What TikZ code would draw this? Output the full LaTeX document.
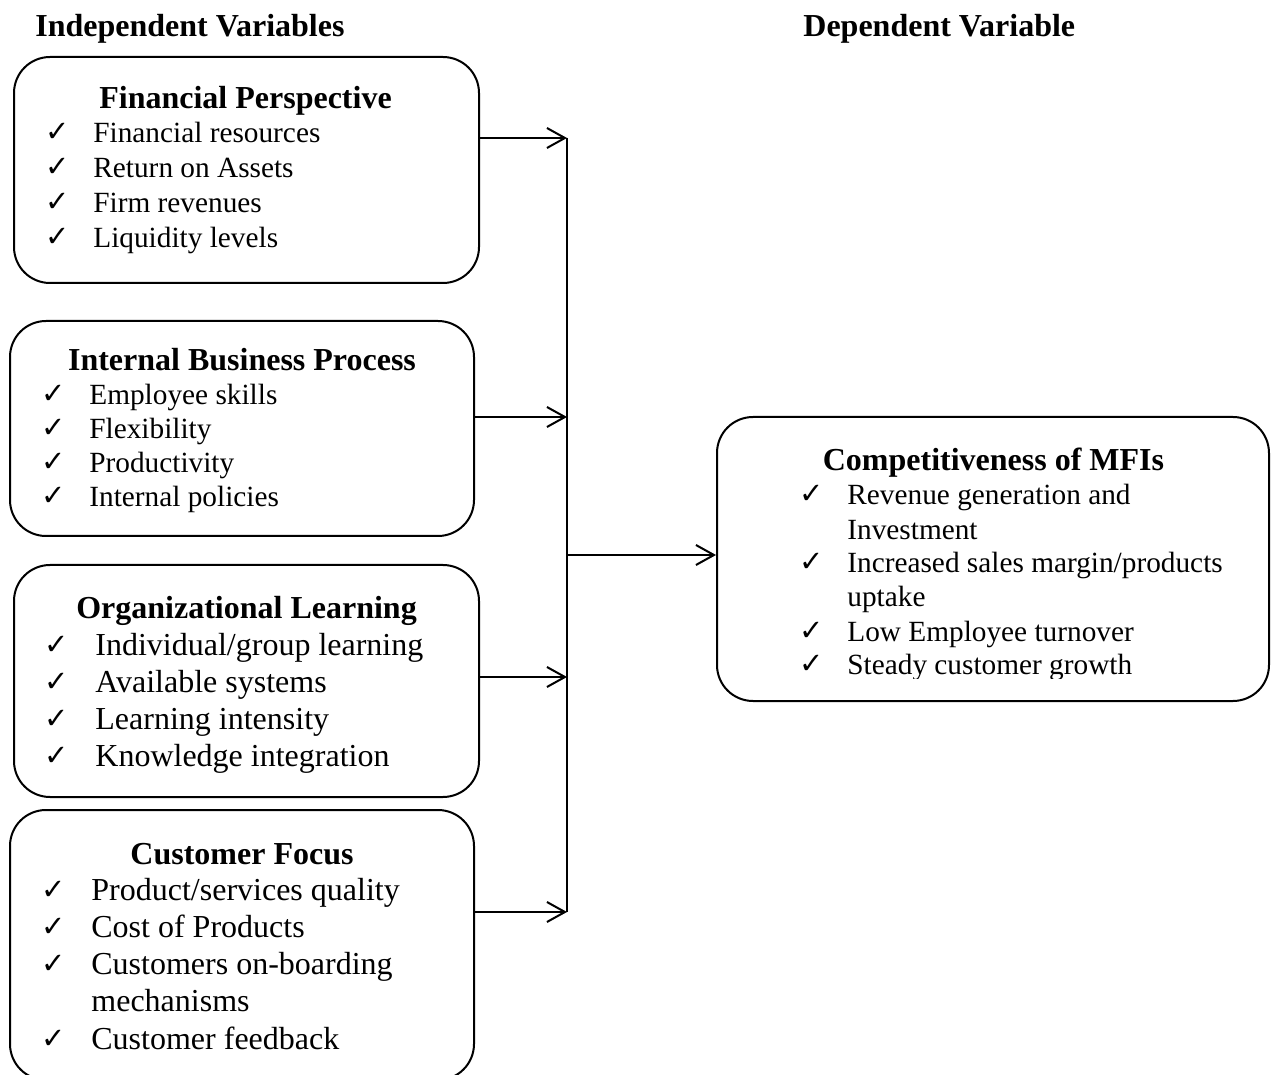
\documentclass[tikz,border=0pt]{standalone}
\usepackage{fontspec}
\setmainfont{Liberation Serif}
\newfontfamily\chkfont{DejaVu Sans}
\usetikzlibrary{arrows.meta}
\newcommand\bodyA{\fontsize{14.65pt}{17pt}\selectfont}
\newcommand\bodyB{\fontsize{16pt}{19pt}\selectfont}
% #1 check x, #2 text x, #3 baseline, #4 check raise, #5 text
\newcommand\itm[5]{\node[chk] at (#1,#3-#4) {✓};\node[item] at (#2,#3) {#5};}
\newcommand\cont[3]{\node[item] at (#1,#2) {#3};}
\begin{document}
\begin{tikzpicture}[x=0.5pt,y=-0.5pt,
  box/.style={draw, line width=1pt, rounded corners=18pt, inner sep=0pt},
  item/.style={anchor=base west, inner sep=0pt},
  chk/.style={anchor=base, inner sep=0pt, font=\chkfont\fontsize{14.5pt}{16pt}\selectfont},
  ttl/.style={anchor=base, inner sep=0pt, font=\bfseries\fontsize{16pt}{19pt}\selectfont},
  hdr/.style={anchor=base west, inner sep=0pt, font=\bfseries\fontsize{16pt}{19pt}\selectfont},
  arr/.style={line width=1pt, -{Straight Barb[length=9pt,width=10pt,line width=1pt]}},
  conn/.style={line width=1pt}]
\useasboundingbox (0,0) rectangle (1271,1075);

% headers
\node[hdr] (hind) at (35,37) {Independent Variables};
\node[hdr] (hdep) at (803,37) {Dependent Variable};

% boxes
\node[box, minimum width=232.5pt, minimum height=113pt] (b1) at (246.5,170) {};
\node[box, minimum width=232pt, minimum height=107.5pt] (b2) at (242,428.5) {};
\node[box, minimum width=232.5pt, minimum height=116pt] (b3) at (246.5,681) {};
\node[box, minimum width=232pt, minimum height=135pt] (b4) at (242,945) {};
\node[box, minimum width=276pt, minimum height=142pt] (res) at (993,559) {};

% box 1
\node[ttl] (t1) at (245.5,109) {Financial Perspective};
\begin{scope}[font=\bodyA]
\itm{58}{93}{143}{1}{Financial resources}
\itm{58}{93}{178}{1}{Return on Assets}
\itm{58}{93}{213}{1}{Firm revenues}
\itm{58}{93}{248}{1}{Liquidity levels}
\end{scope}

% box 2
\node[ttl] (t2) at (242,371) {Internal Business Process};
\begin{scope}[font=\bodyA]
\itm{54}{89}{405}{1}{Employee skills}
\itm{54}{89}{439}{1}{Flexibility}
\itm{54}{89}{473}{1}{Productivity}
\itm{54}{89}{507}{1}{Internal policies}
\end{scope}

% box 3
\node[ttl] (t3) at (246.5,618) {Organizational Learning};
\begin{scope}[font=\bodyB]
\itm{57}{95}{655}{1}{Individual/group learning}
\itm{57}{95}{692}{1}{Available systems}
\itm{57}{95}{729}{1}{Learning intensity}
\itm{57}{95}{766}{1}{Knowledge integration}
\end{scope}

% box 4
\node[ttl] (t4) at (242,864) {Customer Focus};
\begin{scope}[font=\bodyB]
\itm{54}{91}{900}{1}{Product/services quality}
\itm{54}{91}{937}{1}{Cost of Products}
\itm{54}{91}{974}{1}{Customers on-boarding}
\cont{91}{1011}{mechanisms}
\itm{54}{91}{1049}{1}{Customer feedback}
\end{scope}

% result box
\node[ttl] (t5) at (993.5,471) {Competitiveness of MFIs};
\begin{scope}[font=\bodyA]
\itm{812}{847}{505}{1}{Revenue generation and}
\cont{847}{539}{Investment}
\itm{812}{847}{573}{1}{Increased sales margin/products}
\cont{847}{607}{uptake}
\itm{812}{847}{641}{1}{Low Employee turnover}
\begin{scope}
\clip (700,600) rectangle (1271,678);
\itm{812}{847}{675}{1}{Steady customer growth}
\end{scope}
\end{scope}

% connectors
\coordinate (j1) at (567,138);
\coordinate (j2) at (567,417);
\coordinate (j3) at (567,677);
\coordinate (j4) at (567,912);
\coordinate (jm) at (567,555);
\draw[arr] (b1.east |- j1) -- (j1);
\draw[arr] (b2.east |- j2) -- (j2);
\draw[arr] (b3.east |- j3) -- (j3);
\draw[arr] (b4.east |- j4) -- (j4);
\draw[conn] (j1) -- (j4);
\draw[arr] (jm) -- (res.west |- jm);
\end{tikzpicture}
\end{document}
